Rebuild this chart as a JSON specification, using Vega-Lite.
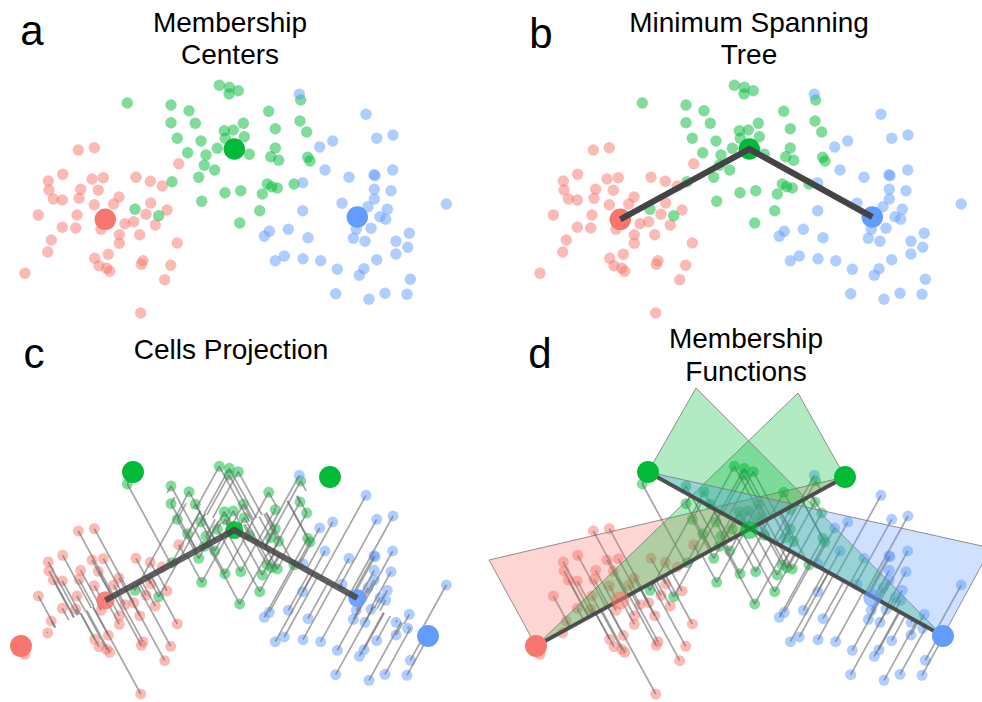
{
"$schema": "https://vega.github.io/schema/vega-lite/v6.json",
"width": 982, "height": 702,
"autosize": {"type": "none"},
"padding": 0,
"background": "white",
"config": {"view": {"stroke": null}},
"datasets": {
"pts": [
{"c":"r","x":78.3,"y":150},{"c":"r","x":94.3,"y":147.7},{"c":"r","x":178.7,"y":163.7},{"c":"r","x":62.7,"y":174.3},{"c":"r","x":48.3,"y":181},{"c":"r","x":49,"y":190},{"c":"r","x":53.3,"y":199},{"c":"r","x":62.3,"y":200},{"c":"r","x":80.7,"y":189.3},{"c":"r","x":79,"y":198.3},{"c":"r","x":92,"y":179},{"c":"r","x":103.3,"y":177.7},{"c":"r","x":98.3,"y":190.3},{"c":"r","x":94.3,"y":204.7},{"c":"r","x":119,"y":197},{"c":"r","x":113.7,"y":204},{"c":"r","x":136,"y":177.3},{"c":"r","x":150.3,"y":181.3},{"c":"r","x":162.3,"y":186},{"c":"r","x":150.7,"y":203},{"c":"r","x":167,"y":210},{"c":"r","x":146,"y":214.3},{"c":"r","x":38.3,"y":215},{"c":"r","x":77,"y":215},{"c":"r","x":62.3,"y":227.3},{"c":"r","x":75.7,"y":228},{"c":"r","x":51.3,"y":240},{"c":"r","x":47.7,"y":252},{"c":"r","x":25,"y":273.3},{"c":"r","x":125,"y":223.7},{"c":"r","x":133.7,"y":221.7},{"c":"r","x":155.3,"y":225},{"c":"r","x":119.3,"y":234.7},{"c":"r","x":119.3,"y":243.3},{"c":"r","x":139.7,"y":234.7},{"c":"r","x":177.3,"y":243},{"c":"r","x":101,"y":229.3},{"c":"r","x":108.3,"y":254.3},{"c":"r","x":94.7,"y":258.3},{"c":"r","x":99,"y":265.7},{"c":"r","x":106.7,"y":268.3},{"c":"r","x":109.7,"y":271.3},{"c":"r","x":143,"y":260.7},{"c":"r","x":141.3,"y":264.3},{"c":"r","x":170.7,"y":265.3},{"c":"r","x":164.7,"y":279.7},{"c":"r","x":140.7,"y":313},
{"c":"g","x":127.3,"y":103},{"c":"g","x":171,"y":105},{"c":"g","x":189,"y":110.7},{"c":"g","x":171,"y":122.7},{"c":"g","x":195.3,"y":123.3},{"c":"g","x":177.3,"y":138.3},{"c":"g","x":201,"y":141},{"c":"g","x":187.7,"y":152.7},{"c":"g","x":206,"y":155},{"c":"g","x":204.3,"y":165.3},{"c":"g","x":214.7,"y":170},{"c":"g","x":198.7,"y":177.3},{"c":"g","x":172,"y":181.7},{"c":"g","x":201.7,"y":201.3},{"c":"g","x":225,"y":192.7},{"c":"g","x":240.7,"y":190.7},{"c":"g","x":239.7,"y":223},{"c":"g","x":259.7,"y":210.7},{"c":"g","x":262.3,"y":194},{"c":"g","x":267.3,"y":184},{"c":"g","x":271.7,"y":186.7},{"c":"g","x":277.3,"y":188},{"c":"g","x":294,"y":184},{"c":"g","x":135,"y":209.3},{"c":"g","x":158.7,"y":215.7},{"c":"g","x":219.3,"y":85.3},{"c":"g","x":229.3,"y":87.3},{"c":"g","x":238.3,"y":90.7},{"c":"g","x":229,"y":94},{"c":"g","x":268.7,"y":111.3},{"c":"g","x":243.3,"y":123.3},{"c":"g","x":233.3,"y":130},{"c":"g","x":224.3,"y":130.7},{"c":"g","x":244.3,"y":136.7},{"c":"g","x":225.3,"y":138.3},{"c":"g","x":217.3,"y":148.3},{"c":"g","x":249.3,"y":154.3},{"c":"g","x":275.3,"y":128.7},{"c":"g","x":275.3,"y":148},{"c":"g","x":270.7,"y":156.7},{"c":"g","x":278.7,"y":160.3},{"c":"g","x":300.7,"y":100},{"c":"g","x":300,"y":121},{"c":"g","x":306.7,"y":132},{"c":"g","x":307.7,"y":157.3},{"c":"g","x":310,"y":161},
{"c":"b","x":299.3,"y":94.3},{"c":"b","x":366,"y":114.3},{"c":"b","x":376.7,"y":138.3},{"c":"b","x":393,"y":135},{"c":"b","x":319.7,"y":147},{"c":"b","x":332.7,"y":141},{"c":"b","x":325,"y":170},{"c":"b","x":349,"y":177.3},{"c":"b","x":374,"y":174.7},{"c":"b","x":375,"y":175.7},{"c":"b","x":392.7,"y":170},{"c":"b","x":302.7,"y":182.7},{"c":"b","x":374.3,"y":189.3},{"c":"b","x":391,"y":190.7},{"c":"b","x":374.3,"y":199},{"c":"b","x":368,"y":206.7},{"c":"b","x":342,"y":203.3},{"c":"b","x":387.3,"y":209.3},{"c":"b","x":380,"y":216.7},{"c":"b","x":385.7,"y":219.3},{"c":"b","x":446.3,"y":204},{"c":"b","x":302.7,"y":210.7},{"c":"b","x":371,"y":228.3},{"c":"b","x":356.3,"y":229.3},{"c":"b","x":353.3,"y":238.3},{"c":"b","x":365,"y":241.3},{"c":"b","x":409.3,"y":233.3},{"c":"b","x":396,"y":241.3},{"c":"b","x":407.7,"y":247.3},{"c":"b","x":396,"y":254},{"c":"b","x":269.3,"y":231.3},{"c":"b","x":264.3,"y":236.3},{"c":"b","x":288.3,"y":229.3},{"c":"b","x":308,"y":237.7},{"c":"b","x":284.3,"y":256},{"c":"b","x":275.3,"y":260.7},{"c":"b","x":303,"y":258.7},{"c":"b","x":320.7,"y":260.7},{"c":"b","x":337.3,"y":269.3},{"c":"b","x":376.7,"y":259.7},{"c":"b","x":364,"y":268.7},{"c":"b","x":359.3,"y":275.3},{"c":"b","x":410.3,"y":279.3},{"c":"b","x":335.7,"y":293.7},{"c":"b","x":369,"y":299.3},{"c":"b","x":385,"y":293.3},{"c":"b","x":407,"y":294.3}
],
"proj": [
{"c":"r","x":78.3,"y":150,"x2":113.6,"y2":214.8},{"c":"r","x":94.3,"y":147.7,"x2":126.9,"y2":207.5},{"c":"r","x":178.7,"y":163.7,"x2":185.3,"y2":175.7},{"c":"r","x":62.7,"y":174.3,"x2":91.4,"y2":226.9},{"c":"r","x":48.3,"y":181,"x2":77.5,"y2":234.5},{"c":"r","x":49,"y":190,"x2":74.2,"y2":236.3},{"c":"r","x":53.3,"y":199,"x2":73.7,"y2":236.5},{"c":"r","x":62.3,"y":200,"x2":80.3,"y2":233},{"c":"r","x":80.7,"y":189.3,"x2":98.9,"y2":222.8},{"c":"r","x":79,"y":198.3,"x2":93.9,"y2":225.5},{"c":"r","x":92,"y":179,"x2":112,"y2":215.7},{"c":"r","x":103.3,"y":177.7,"x2":121.2,"y2":210.6},{"c":"r","x":98.3,"y":190.3,"x2":112.1,"y2":215.6},{"c":"r","x":94.3,"y":204.7,"x2":103,"y2":220.6},{"c":"r","x":119,"y":197,"x2":125.2,"y2":208.4},{"c":"r","x":113.7,"y":204,"x2":118.2,"y2":212.3},{"c":"r","x":136,"y":177.3,"x2":146.6,"y2":196.8},{"c":"r","x":150.3,"y":181.3,"x2":156,"y2":191.7},{"c":"r","x":162.3,"y":186,"x2":163.2,"y2":187.7},{"c":"r","x":150.7,"y":203,"x2":147.1,"y2":196.5},{"c":"r","x":167,"y":210,"x2":156.8,"y2":191.2},{"c":"r","x":146,"y":214.3,"x2":138.8,"y2":201},{"c":"r","x":38.3,"y":215,"x2":55.5,"y2":246.5},{"c":"r","x":77,"y":215,"x2":85.3,"y2":230.2},{"c":"r","x":62.3,"y":227.3,"x2":68.8,"y2":239.2},{"c":"r","x":75.7,"y":228,"x2":78.8,"y2":233.7},{"c":"r","x":51.3,"y":240,"x2":55,"y2":246.7},{"c":"r","x":47.7,"y":252,"x2":47.2,"y2":251},{"c":"r","x":25,"y":273.3,"x2":20.7,"y2":265.4},{"c":"r","x":125,"y":223.7,"x2":118.6,"y2":212},{"c":"r","x":133.7,"y":221.7,"x2":126.2,"y2":207.9},{"c":"r","x":155.3,"y":225,"x2":141.4,"y2":199.6},{"c":"r","x":119.3,"y":234.7,"x2":109.6,"y2":216.9},{"c":"r","x":119.3,"y":243.3,"x2":106,"y2":218.9},{"c":"r","x":139.7,"y":234.7,"x2":125.4,"y2":208.4},{"c":"r","x":177.3,"y":243,"x2":150.8,"y2":194.5},{"c":"r","x":101,"y":229.3,"x2":97.8,"y2":223.4},{"c":"r","x":108.3,"y":254.3,"x2":92.9,"y2":226.1},{"c":"r","x":94.7,"y":258.3,"x2":80.7,"y2":232.7},{"c":"r","x":99,"y":265.7,"x2":80.9,"y2":232.6},{"c":"r","x":106.7,"y":268.3,"x2":85.8,"y2":229.9},{"c":"r","x":109.7,"y":271.3,"x2":86.8,"y2":229.4},{"c":"r","x":143,"y":260.7,"x2":117,"y2":212.9},{"c":"r","x":141.3,"y":264.3,"x2":114.1,"y2":214.5},{"c":"r","x":170.7,"y":265.3,"x2":136.4,"y2":202.3},{"c":"r","x":164.7,"y":279.7,"x2":125.7,"y2":208.2},{"c":"r","x":140.7,"y":313,"x2":93.2,"y2":225.9},
{"c":"b","x":299.3,"y":94.3,"x2":260.9,"y2":163.8},{"c":"b","x":366,"y":114.3,"x2":320.4,"y2":196.7},{"c":"b","x":376.7,"y":138.3,"x2":338.8,"y2":206.8},{"c":"b","x":393,"y":135,"x2":349.9,"y2":213},{"c":"b","x":319.7,"y":147,"x2":298.8,"y2":184.7},{"c":"b","x":332.7,"y":141,"x2":306.3,"y2":188.8},{"c":"b","x":325,"y":170,"x2":312.6,"y2":192.3},{"c":"b","x":349,"y":177.3,"x2":334.1,"y2":204.2},{"c":"b","x":374,"y":174.7,"x2":352.2,"y2":214.2},{"c":"b","x":375,"y":175.7,"x2":353.4,"y2":214.9},{"c":"b","x":392.7,"y":170,"x2":364.5,"y2":221},{"c":"b","x":302.7,"y":182.7,"x2":301,"y2":185.9},{"c":"b","x":374.3,"y":189.3,"x2":358.6,"y2":217.7},{"c":"b","x":391,"y":190.7,"x2":372,"y2":225.1},{"c":"b","x":374.3,"y":199,"x2":362.7,"y2":220},{"c":"b","x":368,"y":206.7,"x2":361.1,"y2":219.1},{"c":"b","x":342,"y":203.3,"x2":339.8,"y2":207.3},{"c":"b","x":387.3,"y":209.3,"x2":377,"y2":227.9},{"c":"b","x":380,"y":216.7,"x2":374.6,"y2":226.6},{"c":"b","x":385.7,"y":219.3,"x2":380,"y2":229.6},{"c":"b","x":446.3,"y":204,"x2":419.9,"y2":251.7},{"c":"b","x":302.7,"y":210.7,"x2":312.8,"y2":192.4},{"c":"b","x":371,"y":228.3,"x2":372.6,"y2":225.4},{"c":"b","x":356.3,"y":229.3,"x2":361.7,"y2":219.5},{"c":"b","x":353.3,"y":238.3,"x2":363.3,"y2":220.3},{"c":"b","x":365,"y":241.3,"x2":373.5,"y2":225.9},{"c":"b","x":409.3,"y":233.3,"x2":404,"y2":242.8},{"c":"b","x":396,"y":241.3,"x2":397.2,"y2":239.1},{"c":"b","x":407.7,"y":247.3,"x2":408.7,"y2":245.4},{"c":"b","x":396,"y":254,"x2":402.6,"y2":242},{"c":"b","x":269.3,"y":231.3,"x2":296,"y2":183.1},{"c":"b","x":264.3,"y":236.3,"x2":294.3,"y2":182.1},{"c":"b","x":288.3,"y":229.3,"x2":309.7,"y2":190.6},{"c":"b","x":308,"y":237.7,"x2":328.3,"y2":201},{"c":"b","x":284.3,"y":256,"x2":317.9,"y2":195.2},{"c":"b","x":275.3,"y":260.7,"x2":313,"y2":192.5},{"c":"b","x":303,"y":258.7,"x2":333.4,"y2":203.7},{"c":"b","x":320.7,"y":260.7,"x2":347.8,"y2":211.7},{"c":"b","x":337.3,"y":269.3,"x2":364.1,"y2":220.7},{"c":"b","x":376.7,"y":259.7,"x2":390.2,"y2":235.2},{"c":"b","x":364,"y":268.7,"x2":384.3,"y2":231.9},{"c":"b","x":359.3,"y":275.3,"x2":383.5,"y2":231.5},{"c":"b","x":410.3,"y":279.3,"x2":424.3,"y2":254},{"c":"b","x":335.7,"y":293.7,"x2":373.3,"y2":225.8},{"c":"b","x":369,"y":299.3,"x2":401.1,"y2":241.2},{"c":"b","x":385,"y":293.3,"x2":410.8,"y2":246.6},{"c":"b","x":407,"y":294.3,"x2":428.1,"y2":256.1},
{"c":"g","x":127.3,"y":103,"x2":171.1,"y2":183.4},{"c":"g","x":127.3,"y":103,"x2":132.9,"y2":92.9},
{"c":"g","x":171,"y":105,"x2":204,"y2":165.5},{"c":"g","x":171,"y":105,"x2":167.2,"y2":111.9},
{"c":"g","x":189,"y":110.7,"x2":215.5,"y2":159.3},{"c":"g","x":189,"y":110.7,"x2":183.4,"y2":120.9},
{"c":"g","x":171,"y":122.7,"x2":196.5,"y2":169.6},{"c":"g","x":171,"y":122.7,"x2":174.7,"y2":116},
{"c":"g","x":195.3,"y":123.3,"x2":215,"y2":159.5},{"c":"g","x":195.3,"y":123.3,"x2":193.5,"y2":126.5},
{"c":"g","x":177.3,"y":138.3,"x2":194.9,"y2":170.5},{"c":"g","x":177.3,"y":138.3,"x2":186.1,"y2":122.4},
{"c":"g","x":201,"y":141,"x2":212,"y2":161.2},{"c":"g","x":201,"y":141,"x2":205.4,"y2":133},
{"c":"g","x":187.7,"y":152.7,"x2":196.8,"y2":169.4},{"c":"g","x":187.7,"y":152.7,"x2":200.2,"y2":130.1},
{"c":"g","x":206,"y":155,"x2":210,"y2":162.3},{"c":"g","x":206,"y":155,"x2":215.2,"y2":138.4},
{"c":"g","x":204.3,"y":165.3,"x2":204.3,"y2":165.3},{"c":"g","x":204.3,"y":165.3,"x2":218.2,"y2":140.1},
{"c":"g","x":214.7,"y":170,"x2":210.4,"y2":162},{"c":"g","x":214.7,"y":170,"x2":228.2,"y2":145.6},
{"c":"g","x":198.7,"y":177.3,"x2":195,"y2":170.4},{"c":"g","x":198.7,"y":177.3,"x2":219,"y2":140.5},
{"c":"g","x":172,"y":181.7,"x2":172.5,"y2":182.7},{"c":"g","x":172,"y":181.7,"x2":200.4,"y2":130.2},
{"c":"g","x":201.7,"y":201.3,"x2":187.2,"y2":174.7},{"c":"g","x":201.7,"y":201.3,"x2":231.5,"y2":147.4},
{"c":"g","x":225,"y":192.7,"x2":208.8,"y2":162.9},{"c":"g","x":225,"y":192.7,"x2":245.7,"y2":155.3},
{"c":"g","x":240.7,"y":190.7,"x2":221.7,"y2":155.8},{"c":"g","x":240.7,"y":190.7,"x2":256.9,"y2":161.5},
{"c":"g","x":239.7,"y":223,"x2":207.4,"y2":163.7},{"c":"g","x":239.7,"y":223,"x2":269.8,"y2":168.6},
{"c":"g","x":259.7,"y":210.7,"x2":227.9,"y2":152.4},{"c":"g","x":259.7,"y":210.7,"x2":279.9,"y2":174.2},
{"c":"g","x":262.3,"y":194,"x2":237,"y2":147.5},{"c":"g","x":262.3,"y":194,"x2":274.8,"y2":171.4},
{"c":"g","x":267.3,"y":184,"x2":245,"y2":143.1},{"c":"g","x":267.3,"y":184,"x2":274.4,"y2":171.2},
{"c":"g","x":271.7,"y":186.7,"x2":247.3,"y2":141.9},{"c":"g","x":271.7,"y":186.7,"x2":278.9,"y2":173.7},
{"c":"g","x":277.3,"y":188,"x2":251.1,"y2":139.8},{"c":"g","x":277.3,"y":188,"x2":283.8,"y2":176.3},
{"c":"g","x":294,"y":184,"x2":265.6,"y2":131.9},{"c":"g","x":294,"y":184,"x2":294.8,"y2":182.5},
{"c":"g","x":135,"y":209.3,"x2":132.4,"y2":204.5},{"c":"g","x":135,"y":209.3,"x2":183.8,"y2":121},
{"c":"g","x":158.7,"y":215.7,"x2":148,"y2":196},{"c":"g","x":158.7,"y":215.7,"x2":204.7,"y2":132.6},
{"c":"g","x":219.3,"y":85.3,"x2":249.5,"y2":140.7},{"c":"g","x":219.3,"y":85.3,"x2":195.8,"y2":127.8},
{"c":"g","x":229.3,"y":87.3,"x2":256.4,"y2":137},{"c":"g","x":229.3,"y":87.3,"x2":204.3,"y2":132.5},
{"c":"g","x":238.3,"y":90.7,"x2":261.9,"y2":134},{"c":"g","x":238.3,"y":90.7,"x2":212.7,"y2":137.1},
{"c":"g","x":229,"y":94,"x2":253.3,"y2":138.6},{"c":"g","x":229,"y":94,"x2":206.9,"y2":133.9},
{"c":"g","x":268.7,"y":111.3,"x2":276.7,"y2":125.9},{"c":"g","x":268.7,"y":111.3,"x2":244.7,"y2":154.8},
{"c":"g","x":243.3,"y":123.3,"x2":252,"y2":139.3},{"c":"g","x":243.3,"y":123.3,"x2":230.3,"y2":146.8},
{"c":"g","x":233.3,"y":130,"x2":241.5,"y2":145.1},{"c":"g","x":233.3,"y":130,"x2":225.5,"y2":144.1},
{"c":"g","x":224.3,"y":130.7,"x2":234.3,"y2":149},{"c":"g","x":224.3,"y":130.7,"x2":218.9,"y2":140.5},
{"c":"g","x":244.3,"y":136.7,"x2":247.2,"y2":142},{"c":"g","x":244.3,"y":136.7,"x2":236.7,"y2":150.4},
{"c":"g","x":225.3,"y":138.3,"x2":231.9,"y2":150.3},{"c":"g","x":225.3,"y":138.3,"x2":222.9,"y2":142.7},
{"c":"g","x":217.3,"y":148.3,"x2":221.5,"y2":156},{"c":"g","x":217.3,"y":148.3,"x2":221,"y2":141.6},
{"c":"g","x":249.3,"y":154.3,"x2":243.6,"y2":143.9},{"c":"g","x":249.3,"y":154.3,"x2":248,"y2":156.6},
{"c":"g","x":275.3,"y":128.7,"x2":274.4,"y2":127.1},{"c":"g","x":275.3,"y":128.7,"x2":257.1,"y2":161.6},
{"c":"g","x":275.3,"y":148,"x2":266.3,"y2":131.5},{"c":"g","x":275.3,"y":148,"x2":265.3,"y2":166.1},
{"c":"g","x":270.7,"y":156.7,"x2":259.1,"y2":135.5},{"c":"g","x":270.7,"y":156.7,"x2":265.4,"y2":166.2},
{"c":"g","x":278.7,"y":160.3,"x2":263.8,"y2":132.9},{"c":"g","x":278.7,"y":160.3,"x2":273.1,"y2":170.5},
{"c":"g","x":300.7,"y":100,"x2":306.1,"y2":109.9},{"c":"g","x":300.7,"y":100,"x2":264.4,"y2":165.7},
{"c":"g","x":300,"y":121,"x2":296.7,"y2":115},{"c":"g","x":300,"y":121,"x2":272.7,"y2":170.3},
{"c":"g","x":306.7,"y":132,"x2":297.3,"y2":114.7},{"c":"g","x":306.7,"y":132,"x2":282.5,"y2":175.7},
{"c":"g","x":307.7,"y":157.3,"x2":287.4,"y2":120},{"c":"g","x":307.7,"y":157.3,"x2":294,"y2":182},
{"c":"g","x":310,"y":161,"x2":287.6,"y2":119.9},{"c":"g","x":310,"y":161,"x2":297.3,"y2":183.9}
],
"centers": [{"c":"r","x":105.3,"y":219.3},{"c":"g","x":234.3,"y":149},{"c":"b","x":357.3,"y":217}],
"mst": [{"o":0,"x":105.3,"y":219.3},{"o":1,"x":234.3,"y":149},{"o":2,"x":357.3,"y":217}],
"ends": [{"c":"r","x":21,"y":265},{"c":"g","x":133,"y":91},{"c":"g","x":330,"y":96},{"c":"b","x":428,"y":255}],
"axes": [{"s":"1","o":0,"x":21,"y":265},{"s":"1","o":1,"x":330,"y":96},{"s":"2","o":0,"x":133,"y":91},{"s":"2","o":1,"x":428,"y":255}],
"tri": [
{"t":"r","o":0,"x":21,"y":265},{"t":"r","o":1,"x":-26,"y":179},{"t":"r","o":2,"x":330,"y":96},{"t":"r","o":3,"x":21,"y":265},
{"t":"gB","o":0,"x":330,"y":96},{"t":"gB","o":1,"x":283,"y":12},{"t":"gB","o":2,"x":21,"y":265},{"t":"gB","o":3,"x":330,"y":96},
{"t":"gA","o":0,"x":133,"y":91},{"t":"gA","o":1,"x":181,"y":7},{"t":"gA","o":2,"x":428,"y":255},{"t":"gA","o":3,"x":133,"y":91},
{"t":"b","o":0,"x":428,"y":255},{"t":"b","o":1,"x":476,"y":167},{"t":"b","o":2,"x":133,"y":91},{"t":"b","o":3,"x":428,"y":255}
]
},
"resolve": {"scale": {"x": "independent", "y": "independent"}},
"layer": [
{"data":{"name":"pts"},"mark":{"type":"circle","size":130,"opacity":0.5},
 "encoding":{"x":{"field":"x","type":"quantitative","scale":{"domain":[0,982],"nice":false,"zero":false},"axis":null},"y":{"field":"y","type":"quantitative","scale":{"domain":[0,702],"nice":false,"zero":false,"reverse":true},"axis":null},"color":{"field":"c","type":"nominal","scale":{"domain":["r","g","b"],"range":["#F8766D","#00BA38","#619CFF"]},"legend":null}}},
{"data":{"name":"centers"},"mark":{"type":"circle","size":460,"opacity":1},
 "encoding":{"x":{"field":"x","type":"quantitative","scale":{"domain":[0,982],"nice":false,"zero":false},"axis":null},"y":{"field":"y","type":"quantitative","scale":{"domain":[0,702],"nice":false,"zero":false,"reverse":true},"axis":null},"color":{"field":"c","type":"nominal","scale":{"domain":["r","g","b"],"range":["#F8766D","#00BA38","#619CFF"]},"legend":null}}},

{"data":{"name":"pts"},"mark":{"type":"circle","size":130,"opacity":0.5},
 "encoding":{"x":{"field":"x","type":"quantitative","scale":{"domain":[-515,467],"nice":false,"zero":false},"axis":null},"y":{"field":"y","type":"quantitative","scale":{"domain":[0,702],"nice":false,"zero":false,"reverse":true},"axis":null},"color":{"field":"c","type":"nominal","scale":{"domain":["r","g","b"],"range":["#F8766D","#00BA38","#619CFF"]},"legend":null}}},
{"data":{"name":"centers"},"mark":{"type":"circle","size":460,"opacity":1},
 "encoding":{"x":{"field":"x","type":"quantitative","scale":{"domain":[-515,467],"nice":false,"zero":false},"axis":null},"y":{"field":"y","type":"quantitative","scale":{"domain":[0,702],"nice":false,"zero":false,"reverse":true},"axis":null},"color":{"field":"c","type":"nominal","scale":{"domain":["r","g","b"],"range":["#F8766D","#00BA38","#619CFF"]},"legend":null}}},
{"data":{"name":"mst"},"mark":{"type":"line","color":"#444444","strokeWidth":6},
 "encoding":{"x":{"field":"x","type":"quantitative","scale":{"domain":[-515,467],"nice":false,"zero":false},"axis":null},"y":{"field":"y","type":"quantitative","scale":{"domain":[0,702],"nice":false,"zero":false,"reverse":true},"axis":null},"order":{"field":"o"}}},

{"data":{"name":"pts"},"mark":{"type":"circle","size":120,"opacity":0.5},
 "encoding":{"x":{"field":"x","type":"quantitative","scale":{"domain":[0,982],"nice":false,"zero":false},"axis":null},"y":{"field":"y","type":"quantitative","scale":{"domain":[-381,321],"nice":false,"zero":false,"reverse":true},"axis":null},"color":{"field":"c","type":"nominal","scale":{"domain":["r","g","b"],"range":["#F8766D","#00BA38","#619CFF"]},"legend":null}}},
{"data":{"name":"proj"},"mark":{"type":"rule","color":"#6a6a6a","strokeWidth":1.7,"opacity":0.6},
 "encoding":{"x":{"field":"x","type":"quantitative","scale":{"domain":[0,982],"nice":false,"zero":false},"axis":null},"y":{"field":"y","type":"quantitative","scale":{"domain":[-381,321],"nice":false,"zero":false,"reverse":true},"axis":null},"x2":{"field":"x2"},"y2":{"field":"y2"}}},
{"data":{"name":"centers"},"mark":{"type":"circle","size":330,"opacity":0.9},
 "encoding":{"x":{"field":"x","type":"quantitative","scale":{"domain":[0,982],"nice":false,"zero":false},"axis":null},"y":{"field":"y","type":"quantitative","scale":{"domain":[-381,321],"nice":false,"zero":false,"reverse":true},"axis":null},"color":{"field":"c","type":"nominal","scale":{"domain":["r","g","b"],"range":["#F8766D","#00BA38","#619CFF"]},"legend":null}}},
{"data":{"name":"mst"},"mark":{"type":"line","color":"#444444","strokeWidth":6,"opacity":0.85},
 "encoding":{"x":{"field":"x","type":"quantitative","scale":{"domain":[0,982],"nice":false,"zero":false},"axis":null},"y":{"field":"y","type":"quantitative","scale":{"domain":[-381,321],"nice":false,"zero":false,"reverse":true},"axis":null},"order":{"field":"o"}}},
{"data":{"name":"ends"},"mark":{"type":"circle","size":480,"opacity":1},
 "encoding":{"x":{"field":"x","type":"quantitative","scale":{"domain":[0,982],"nice":false,"zero":false},"axis":null},"y":{"field":"y","type":"quantitative","scale":{"domain":[-381,321],"nice":false,"zero":false,"reverse":true},"axis":null},"color":{"field":"c","type":"nominal","scale":{"domain":["r","g","b"],"range":["#F8766D","#00BA38","#619CFF"]},"legend":null}}},

{"data":{"name":"pts"},"mark":{"type":"circle","size":120,"opacity":0.5},
 "encoding":{"x":{"field":"x","type":"quantitative","scale":{"domain":[-515,467],"nice":false,"zero":false},"axis":null},"y":{"field":"y","type":"quantitative","scale":{"domain":[-381,321],"nice":false,"zero":false,"reverse":true},"axis":null},"color":{"field":"c","type":"nominal","scale":{"domain":["r","g","b"],"range":["#F8766D","#00BA38","#619CFF"]},"legend":null}}},
{"data":{"name":"proj"},"mark":{"type":"rule","color":"#6a6a6a","strokeWidth":1.7,"opacity":0.6},
 "encoding":{"x":{"field":"x","type":"quantitative","scale":{"domain":[-515,467],"nice":false,"zero":false},"axis":null},"y":{"field":"y","type":"quantitative","scale":{"domain":[-381,321],"nice":false,"zero":false,"reverse":true},"axis":null},"x2":{"field":"x2"},"y2":{"field":"y2"}}},
{"data":{"name":"tri"},"transform":[{"filter":{"field":"t","equal":"r"}}],"mark":{"type":"line","filled":true,"color":"#F8766D","fillOpacity":0.3,"stroke":"#777777","strokeWidth":1,"strokeOpacity":0.8},
 "encoding":{"x":{"field":"x","type":"quantitative","scale":{"domain":[-515,467],"nice":false,"zero":false},"axis":null},"y":{"field":"y","type":"quantitative","scale":{"domain":[-381,321],"nice":false,"zero":false,"reverse":true},"axis":null},"order":{"field":"o"}}},
{"data":{"name":"tri"},"transform":[{"filter":{"field":"t","equal":"gB"}}],"mark":{"type":"line","filled":true,"color":"#00BA38","fillOpacity":0.3,"stroke":"#777777","strokeWidth":1,"strokeOpacity":0.8},
 "encoding":{"x":{"field":"x","type":"quantitative","scale":{"domain":[-515,467],"nice":false,"zero":false},"axis":null},"y":{"field":"y","type":"quantitative","scale":{"domain":[-381,321],"nice":false,"zero":false,"reverse":true},"axis":null},"order":{"field":"o"}}},
{"data":{"name":"tri"},"transform":[{"filter":{"field":"t","equal":"gA"}}],"mark":{"type":"line","filled":true,"color":"#00BA38","fillOpacity":0.3,"stroke":"#777777","strokeWidth":1,"strokeOpacity":0.8},
 "encoding":{"x":{"field":"x","type":"quantitative","scale":{"domain":[-515,467],"nice":false,"zero":false},"axis":null},"y":{"field":"y","type":"quantitative","scale":{"domain":[-381,321],"nice":false,"zero":false,"reverse":true},"axis":null},"order":{"field":"o"}}},
{"data":{"name":"tri"},"transform":[{"filter":{"field":"t","equal":"b"}}],"mark":{"type":"line","filled":true,"color":"#619CFF","fillOpacity":0.3,"stroke":"#777777","strokeWidth":1,"strokeOpacity":0.8},
 "encoding":{"x":{"field":"x","type":"quantitative","scale":{"domain":[-515,467],"nice":false,"zero":false},"axis":null},"y":{"field":"y","type":"quantitative","scale":{"domain":[-381,321],"nice":false,"zero":false,"reverse":true},"axis":null},"order":{"field":"o"}}},
{"data":{"name":"axes"},"mark":{"type":"line","color":"#444444","strokeWidth":4,"opacity":0.9},
 "encoding":{"x":{"field":"x","type":"quantitative","scale":{"domain":[-515,467],"nice":false,"zero":false},"axis":null},"y":{"field":"y","type":"quantitative","scale":{"domain":[-381,321],"nice":false,"zero":false,"reverse":true},"axis":null},"detail":{"field":"s"},"order":{"field":"o"}}},
{"data":{"name":"centers"},"mark":{"type":"circle","size":330,"opacity":0.6},
 "encoding":{"x":{"field":"x","type":"quantitative","scale":{"domain":[-515,467],"nice":false,"zero":false},"axis":null},"y":{"field":"y","type":"quantitative","scale":{"domain":[-381,321],"nice":false,"zero":false,"reverse":true},"axis":null},"color":{"field":"c","type":"nominal","scale":{"domain":["r","g","b"],"range":["#F8766D","#00BA38","#619CFF"]},"legend":null}}},
{"data":{"name":"ends"},"mark":{"type":"circle","size":480,"opacity":1},
 "encoding":{"x":{"field":"x","type":"quantitative","scale":{"domain":[-515,467],"nice":false,"zero":false},"axis":null},"y":{"field":"y","type":"quantitative","scale":{"domain":[-381,321],"nice":false,"zero":false,"reverse":true},"axis":null},"color":{"field":"c","type":"nominal","scale":{"domain":["r","g","b"],"range":["#F8766D","#00BA38","#619CFF"]},"legend":null}}},

{"data":{"values":[{"t":"a"}]},"mark":{"type":"text","font":"Liberation Sans","fontSize":42,"align":"center","baseline":"alphabetic","color":"black"},
 "encoding":{"text":{"field":"t"},"x":{"datum":32,"type":"quantitative","scale":{"domain":[0,982],"nice":false,"zero":false},"axis":null},"y":{"datum":45,"type":"quantitative","scale":{"domain":[0,702],"nice":false,"zero":false,"reverse":true},"axis":null}}},
{"data":{"values":[{"t":"b"}]},"mark":{"type":"text","font":"Liberation Sans","fontSize":42,"align":"center","baseline":"alphabetic","color":"black"},
 "encoding":{"text":{"field":"t"},"x":{"datum":541,"type":"quantitative","scale":{"domain":[0,982],"nice":false,"zero":false},"axis":null},"y":{"datum":48,"type":"quantitative","scale":{"domain":[0,702],"nice":false,"zero":false,"reverse":true},"axis":null}}},
{"data":{"values":[{"t":"c"}]},"mark":{"type":"text","font":"Liberation Sans","fontSize":42,"align":"center","baseline":"alphabetic","color":"black"},
 "encoding":{"text":{"field":"t"},"x":{"datum":34,"type":"quantitative","scale":{"domain":[0,982],"nice":false,"zero":false},"axis":null},"y":{"datum":368,"type":"quantitative","scale":{"domain":[0,702],"nice":false,"zero":false,"reverse":true},"axis":null}}},
{"data":{"values":[{"t":"d"}]},"mark":{"type":"text","font":"Liberation Sans","fontSize":42,"align":"center","baseline":"alphabetic","color":"black"},
 "encoding":{"text":{"field":"t"},"x":{"datum":540,"type":"quantitative","scale":{"domain":[0,982],"nice":false,"zero":false},"axis":null},"y":{"datum":368,"type":"quantitative","scale":{"domain":[0,702],"nice":false,"zero":false,"reverse":true},"axis":null}}},
{"data":{"values":[{"t":"Membership\nCenters"}]},"mark":{"type":"text","font":"Liberation Sans","fontSize":28,"lineBreak":"\n","lineHeight":32,"align":"center","baseline":"alphabetic","color":"black"},
 "encoding":{"text":{"field":"t"},"x":{"datum":230,"type":"quantitative","scale":{"domain":[0,982],"nice":false,"zero":false},"axis":null},"y":{"datum":32,"type":"quantitative","scale":{"domain":[0,702],"nice":false,"zero":false,"reverse":true},"axis":null}}},
{"data":{"values":[{"t":"Minimum Spanning\nTree"}]},"mark":{"type":"text","font":"Liberation Sans","fontSize":28,"lineBreak":"\n","lineHeight":32,"align":"center","baseline":"alphabetic","color":"black"},
 "encoding":{"text":{"field":"t"},"x":{"datum":749,"type":"quantitative","scale":{"domain":[0,982],"nice":false,"zero":false},"axis":null},"y":{"datum":32,"type":"quantitative","scale":{"domain":[0,702],"nice":false,"zero":false,"reverse":true},"axis":null}}},
{"data":{"values":[{"t":"Cells Projection"}]},"mark":{"type":"text","font":"Liberation Sans","fontSize":28,"align":"center","baseline":"alphabetic","color":"black"},
 "encoding":{"text":{"field":"t"},"x":{"datum":231,"type":"quantitative","scale":{"domain":[0,982],"nice":false,"zero":false},"axis":null},"y":{"datum":359,"type":"quantitative","scale":{"domain":[0,702],"nice":false,"zero":false,"reverse":true},"axis":null}}},
{"data":{"values":[{"t":"Membership\nFunctions"}]},"mark":{"type":"text","font":"Liberation Sans","fontSize":28,"lineBreak":"\n","lineHeight":33,"align":"center","baseline":"alphabetic","color":"black"},
 "encoding":{"text":{"field":"t"},"x":{"datum":746,"type":"quantitative","scale":{"domain":[0,982],"nice":false,"zero":false},"axis":null},"y":{"datum":348,"type":"quantitative","scale":{"domain":[0,702],"nice":false,"zero":false,"reverse":true},"axis":null}}}
]
}
